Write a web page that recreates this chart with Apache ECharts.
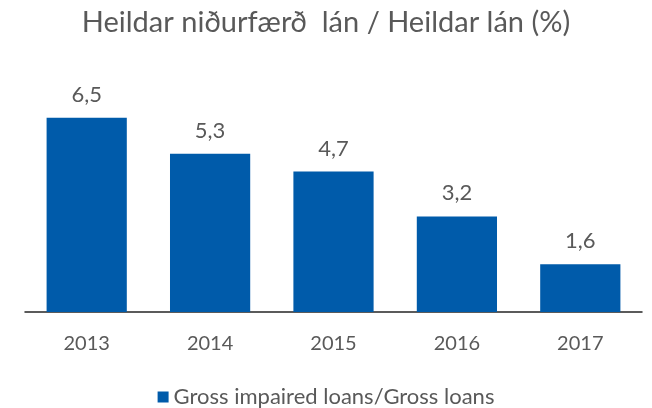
<!DOCTYPE html>
<html><head><meta charset="utf-8">
<script src="https://cdn.jsdelivr.net/npm/echarts@6/dist/echarts.min.js"></script>
<style>html,body{margin:0;padding:0;background:#fff}#c{width:652px;height:408px}</style>
</head><body><div id="c"></div>
<script>
const titleText = 'Heildar niðurfærð  lán / Heildar lán (%)';
const categories = ['2013', '2014', '2015', '2016', '2017'];
const seriesName = 'Gross impaired loans/Gross loans';
const values = [6.5, 5.3, 4.7, 3.2, 1.6];

const font = 'Lato, "Open Sans", sans-serif';
const chart = echarts.init(document.getElementById('c'));
chart.setOption({
  animation: false,
  title: {text: titleText, left: 'center', top: 3,
    textStyle: {fontFamily: font, fontSize: 29, fontWeight: 'normal', color: '#595959'}},
  legend: {top: 381, left: 'center', itemWidth: 11, itemHeight: 11, icon: 'rect', itemGap: 8,
    textStyle: {fontFamily: font, fontSize: 22, color: '#595959'}},
  grid: {left: 25, right: 10, top: 73, bottom: 96},
  xAxis: {type: 'category', data: categories,
    axisLine: {lineStyle: {color: '#262626', width: 1.5}},
    axisTick: {show: false},
    axisLabel: {fontFamily: font, fontSize: 20, color: '#595959', margin: 22}},
  yAxis: {type: 'value', min: 0, max: 8, show: false, splitLine: {show: false}},
  series: [{name: seriesName, type: 'bar', data: values, barWidth: '65%',
    itemStyle: {color: '#005BAA'},
    label: {show: true, position: 'top', distance: 12, fontFamily: font, fontSize: 22, color: '#595959',
      formatter: p => String(p.value.toFixed(1)).replace('.', ',')}}]
});
</script></body></html>
